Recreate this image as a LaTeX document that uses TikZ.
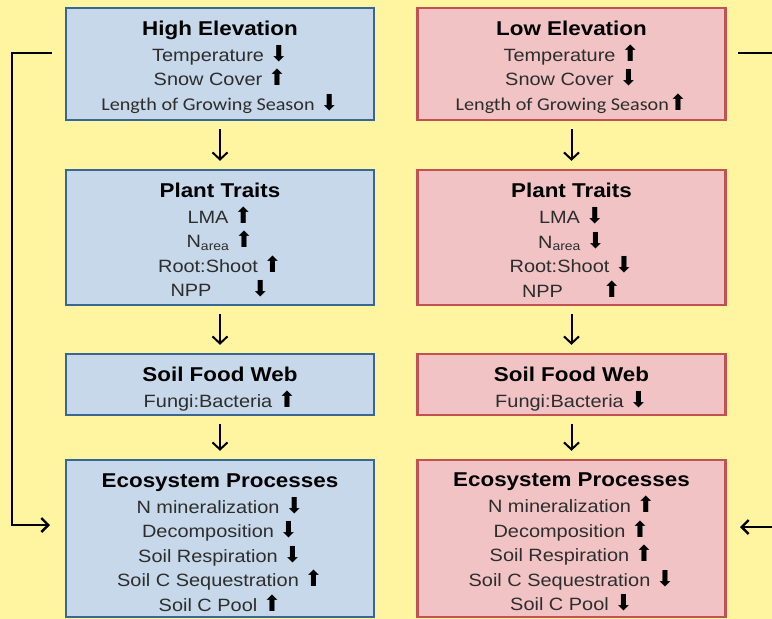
\documentclass[tikz,border=0pt]{standalone}
\usepackage{fontspec}
\setmainfont{Liberation Sans}[FakeStretch=1.12]
\newfontfamily\carl{Carlito}[FakeStretch=1.12]
\newfontfamily\arrowfont{DejaVu Sans}
\usetikzlibrary{arrows.meta}
\definecolor{bgyellow}{RGB}{255,245,160}
\definecolor{bluefill}{RGB}{198,216,234}
\definecolor{blueline}{RGB}{58,102,148}
\definecolor{pinkfill}{RGB}{241,195,197}
\definecolor{pinkline}{RGB}{194,82,82}
\definecolor{txtgray}{RGB}{45,45,45}
\newcommand{\UA}{{\arrowfont\fontsize{22}{13}\selectfont\color{black}\symbol{"2B06}}}
\newcommand{\DA}{{\arrowfont\fontsize{22}{13}\selectfont\color{black}\symbol{"2B07}}}
\newcommand{\btitle}[2][20.5pt]{{\fontsize{20}{24.5}\selectfont\bfseries\color{black}\rule{0pt}{#1}#2}\\[1.5pt]}
\begin{document}
\begin{tikzpicture}[x=1pt,y=-1pt,
  box/.style={draw, line width=2.4pt, minimum width=308pt, inner sep=0pt,
    align=center, text=txtgray, font=\fontsize{17.8}{24.5}\selectfont},
  hibox/.style={box, fill=bluefill, draw=blueline},
  lobox/.style={box, fill=pinkfill, draw=pinkline},
  flow/.style={line width=2pt, -{Straight Barb[length=7pt,width=15pt,line width=2pt]},
    shorten <=8pt, shorten >=8pt},
  fb/.style={line width=2.6pt, -{Straight Barb[length=7pt,width=14pt,line width=2.4pt]}},
  fbline/.style={line width=2.6pt}]
\useasboundingbox (0,0) rectangle (772,619);
\clip (0,0) rectangle (772,619);
\fill[bgyellow] (0,0) rectangle (772,619);

% left column (high elevation)
\node[hibox, minimum height=112pt] (h1) at (220,64)
  {\btitle{High Elevation}Temperature \DA\\ Snow Cover \UA\\ {\carl\fontsize{18}{24.5}\selectfont Length of Growing Season} \DA};
\node[hibox, minimum height=135pt] (h2) at (220,237.5)
  {\btitle[19.5pt]{Plant Traits}LMA \UA\\ N\textsubscript{area} \UA\\ Root:Shoot \UA\\ NPP\hspace{34pt} \DA};
\node[hibox, minimum height=61pt] (h3) at (220,384.5)
  {\btitle[24.5pt]{Soil Food Web}Fungi:Bacteria \UA};
\node[hibox, minimum height=157pt] (h4) at (220,538.5)
  {\btitle[21.5pt]{Ecosystem Processes}N mineralization \DA\\ Decomposition \DA\\ Soil Respiration \DA\\ Soil C Sequestration \UA\\ Soil C Pool \UA};

% right column (low elevation)
\node[lobox, minimum height=112pt] (l1) at (571.5,64)
  {\btitle{Low Elevation}Temperature \UA\\ Snow Cover \DA\\ {\carl\fontsize{18}{24.5}\selectfont Length of Growing Season}\UA};
\node[lobox, minimum height=135pt] (l2) at (571.5,237.5)
  {\btitle[19.5pt]{Plant Traits}LMA \DA\\ N\textsubscript{area} \DA\\ Root:Shoot \DA\\ NPP\hspace{34pt} \UA};
\node[lobox, minimum height=61pt] (l3) at (571.5,384.5)
  {\btitle[24.5pt]{Soil Food Web}Fungi:Bacteria \DA};
\node[lobox, minimum height=157pt] (l4) at (571.5,538.5)
  {\btitle[21.5pt]{Ecosystem Processes}N mineralization \UA\\ Decomposition \UA\\ Soil Respiration \UA\\ Soil C Sequestration \DA\\ Soil C Pool \DA};

% vertical flow arrows
\draw[flow] (h1) -- (h2);
\draw[flow] (h2) -- (h3);
\draw[flow] (h3) -- (h4);
\draw[flow] (l1) -- (l2);
\draw[flow] (l2) -- (l3);
\draw[flow] (l3) -- (l4);

% feedback lines
\coordinate (la) at (52,53);
\coordinate (lc) at (12,53);
\coordinate (ld) at (50,525);
\draw[fb] (la) -- (lc) |- (ld);
\coordinate (ra) at (738,53);
\coordinate (rb) at (785,53);
\coordinate (rc) at (785,527);
\coordinate (rd) at (740,527);
\draw[fbline] (ra) -- (rb);
\draw[fb] (rc) -- (rd);
\end{tikzpicture}
\end{document}
